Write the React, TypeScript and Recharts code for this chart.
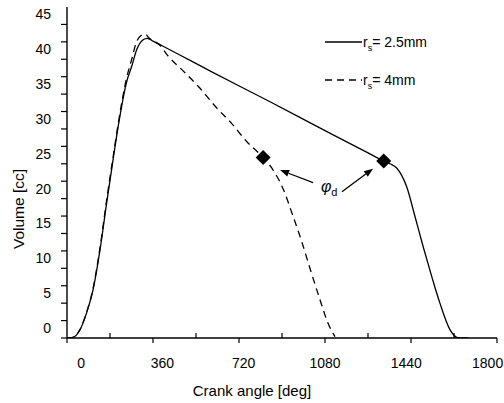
import React from 'react';
import {
  ComposedChart,
  Line,
  Scatter,
  XAxis,
  YAxis,
  Legend,
  ReferenceLine,
  ReferenceDot,
} from 'recharts';

// Cylinder volume vs crank angle, swirl radius r_s = 2.5 mm
const angleSmall = [0, 25, 54, 82, 109, 138, 166, 193, 215, 250, 271, 292, 319, 336, 360, 400, 600, 850, 1100, 1250, 1326, 1352, 1380, 1422, 1457, 1491, 1527, 1561, 1603, 1640, 1680];
const volumeSmall = [0, 0.1, 1.15, 3.6, 6.9, 12.6, 19.4, 25.6, 30.5, 36.8, 39.0, 41.4, 42.8, 43.0, 42.6, 41.9, 38.3, 33.9, 29.4, 26.75, 25.4, 25.0, 24.4, 21.7, 17.4, 13.1, 8.8, 5.0, 1.2, 0, 0];

// Cylinder volume vs crank angle, swirl radius r_s = 4 mm
const angleLarge = [0, 25, 54, 82, 109, 138, 166, 193, 215, 250, 271, 290, 310, 326, 345, 389, 420, 487, 550, 627, 689, 752, 821, 857, 906, 947, 982, 1017, 1059, 1094, 1122];
const volumeLarge = [0, 0.1, 1.2, 3.7, 7.1, 12.9, 19.8, 26.0, 30.9, 37.4, 40.0, 42.4, 43.4, 43.6, 43.0, 42.0, 40.6, 38.3, 36.1, 33.0, 30.8, 28.2, 25.9, 24.4, 21.3, 17.4, 13.9, 10.0, 5.5, 2.0, 0.2];

// End-of-dwell points (phi_d) on each curve
const dwellAngles = [821, 1326];
const dwellVolumes = [25.9, 25.4];

const xTicks = [0, 180, 360, 540, 720, 900, 1080, 1260, 1440, 1620, 1800];
const yTicks = [0, 2.5, 5, 7.5, 10, 12.5, 15, 17.5, 20, 22.5, 25, 27.5, 30, 32.5, 35, 37.5, 40, 42.5, 45];

// Arrows from the phi_d label to the two dwell points
const arrowTail = [
  { angle: 1030, volume: 22.3 },
  { angle: 1151, volume: 21.0 },
];
const arrowHead = [
  { angle: 892, volume: 24.1 },
  { angle: 1281, volume: 24.3 },
];
const labelPoint = { angle: 1088, volume: 21.6 };

const smallData = angleSmall.map((a, i) => ({ angle: a, volume: volumeSmall[i] }));
const largeData = angleLarge.map((a, i) => ({ angle: a, volume: volumeLarge[i] }));
const dwellData = dwellAngles.map((a, i) => ({ angle: a, volume: dwellVolumes[i] }));

const FONT = '"Liberation Sans", Arial, sans-serif';

// The tick-label row is a little narrower than the axis, centred on 1080
const labelSqueeze = 0.013;

const XTick = (props: any) => {
  const { x, y, payload } = props;
  const v = payload.value;
  const major = v % 360 === 0;
  return (
    <g>
      {major ? (
        <line x1={x} y1={y} x2={x} y2={y + 5} stroke="#000" strokeWidth={1.2} />
      ) : (
        <line x1={x} y1={y} x2={x} y2={y - 5} stroke="#000" strokeWidth={1.2} />
      )}
      {major && (
        <text
          x={x + (1080 - v) * labelSqueeze}
          y={y + 30}
          textAnchor="middle"
          fontSize={14}
          fontFamily={FONT}
          fill="#000"
        >
          {v}
        </text>
      )}
    </g>
  );
};

const YTick = (props: any) => {
  const { x, y, payload } = props;
  const v = payload.value;
  const major = v % 5 === 0;
  return (
    <g>
      <line x1={x - 6} y1={y} x2={x} y2={y} stroke="#000" strokeWidth={1.2} />
      {major && (
        <text x={x - 16} y={y - 5} textAnchor="end" fontSize={14} fontFamily={FONT} fill="#000">
          {v}
        </text>
      )}
    </g>
  );
};

const Diamond = (props: any) => {
  const { cx, cy } = props;
  const r = 7.5;
  return (
    <polygon
      points={`${cx},${cy - r} ${cx + r},${cy} ${cx},${cy + r} ${cx - r},${cy}`}
      fill="#000"
    />
  );
};

const Arrow = (props: any) => {
  const { x1, y1, x2, y2 } = props;
  const dx = x2 - x1;
  const dy = y2 - y1;
  const len = Math.sqrt(dx * dx + dy * dy);
  const ux = dx / len;
  const uy = dy / len;
  const hl = 9;
  const hw = 3.5;
  const bx = x2 - ux * hl;
  const by = y2 - uy * hl;
  return (
    <g>
      <line x1={x1} y1={y1} x2={bx} y2={by} stroke="#000" strokeWidth={1.3} />
      <polygon
        points={`${x2},${y2} ${bx - uy * hw},${by + ux * hw} ${bx + uy * hw},${by - ux * hw}`}
        fill="#000"
      />
    </g>
  );
};

const PhiLabel = (props: any) => {
  const { cx, cy } = props;
  return (
    <text x={cx - 6} y={cy + 5} fontFamily={FONT} fill="#000">
      <tspan fontSize={16} fontStyle="italic">φ</tspan>
      <tspan fontSize={11} dy={4}>d</tspan>
    </text>
  );
};

const LegendBox = () => (
  <svg width={130} height={64} style={{ display: 'block' }}>
    <line x1={5} y1={12} x2={42} y2={12} stroke="#000" strokeWidth={1.3} />
    <text x={43} y={17} fontSize={14} fontFamily={FONT} fill="#000">
      <tspan>r</tspan>
      <tspan fontSize={9} dy={4}>s</tspan>
      <tspan dy={-4}>= 2.5mm</tspan>
    </text>
    <line x1={5} y1={50} x2={42} y2={50} stroke="#000" strokeWidth={1.3} strokeDasharray="7 5" />
    <text x={43} y={55} fontSize={14} fontFamily={FONT} fill="#000">
      <tspan>r</tspan>
      <tspan fontSize={9} dy={4}>s</tspan>
      <tspan dy={-4}>= 4mm</tspan>
    </text>
  </svg>
);

export default function App() {
  return (
    <div style={{ position: 'fixed', left: 0, top: 0, background: '#fff' }}>
      <ComposedChart
        width={504}
        height={403}
        margin={{ top: 7, right: 7, bottom: 25, left: 0 }}
      >
        <XAxis
          dataKey="angle"
          type="number"
          domain={[0, 1800]}
          ticks={xTicks}
          interval={0}
          tickSize={0}
          tickMargin={0}
          tick={<XTick />}
          height={40}
          axisLine={{ stroke: '#000', strokeWidth: 1.4 }}
          allowDataOverflow
          label={{
            value: 'Crank angle [deg]',
            position: 'insideBottom',
            offset: 0,
            content: () => (
              <text x={252} y={396} textAnchor="middle" fontSize={15} fontFamily={FONT} fill="#000">
                Crank angle [deg]
              </text>
            ),
          }}
        />
        <XAxis
          xAxisId="top"
          orientation="top"
          type="number"
          domain={[0, 1800]}
          height={0}
          tick={false}
          tickLine={false}
          axisLine={{ stroke: '#000', strokeWidth: 1.4 }}
        />
        <YAxis
          type="number"
          domain={[0, 47.5]}
          ticks={yTicks}
          interval={0}
          tickSize={0}
          tickMargin={0}
          tick={<YTick />}
          width={67}
          axisLine={{ stroke: '#000', strokeWidth: 1.4 }}
          allowDataOverflow
          label={{
            value: 'Volume [cc]',
            position: 'insideLeft',
            content: () => (
              <text
                x={18}
                y={209}
                textAnchor="middle"
                fontSize={15.5}
                fontFamily={FONT}
                fill="#000"
                transform="rotate(-90 18 209)"
                dominantBaseline="central"
              >
                Volume [cc]
              </text>
            ),
          }}
        />
        <YAxis
          yAxisId="right"
          orientation="right"
          type="number"
          domain={[0, 47.5]}
          width={0}
          tick={false}
          tickLine={false}
          axisLine={{ stroke: '#000', strokeWidth: 1.4 }}
        />
        <Legend
          layout="vertical"
          align="center"
          verticalAlign="middle"
          content={<LegendBox />}
          wrapperStyle={{ position: 'absolute', left: 320, top: 30, width: 130, height: 64 }}
        />
        <Line
          data={smallData}
          dataKey="volume"
          type="monotone"
          stroke="#000"
          strokeWidth={1.3}
          dot={false}
          isAnimationActive={false}
          legendType="none"
        />
        <Line
          data={largeData}
          dataKey="volume"
          type="monotone"
          stroke="#000"
          strokeWidth={1.3}
          strokeDasharray="7 5"
          dot={false}
          isAnimationActive={false}
          legendType="none"
        />
        <Scatter
          data={dwellData}
          dataKey="volume"
          shape={<Diamond />}
          isAnimationActive={false}
          legendType="none"
        />
        {arrowTail.map((t, i) => (
          <ReferenceLine
            key={i}
            segment={[
              { x: t.angle, y: t.volume },
              { x: arrowHead[i].angle, y: arrowHead[i].volume },
            ]}
            shape={<Arrow />}
          />
        ))}
        <ReferenceDot x={labelPoint.angle} y={labelPoint.volume} r={0} shape={<PhiLabel />} />
      </ComposedChart>
    </div>
  );
}
